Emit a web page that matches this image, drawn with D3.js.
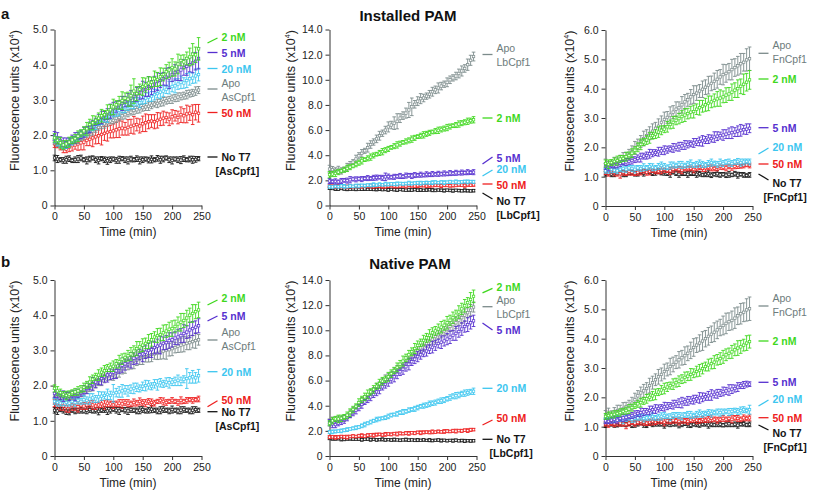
<!DOCTYPE html>
<html>
<head>
<meta charset="utf-8">
<script src="https://cdn.jsdelivr.net/npm/d3@7"></script>
<style>
  body { margin: 0; background: #fff; }
  text { font-family: "Liberation Sans", Arial, Helvetica, sans-serif; }
</style>
</head>
<body>
<svg id="chart" width="813" height="494"></svg>
<script>
// sampling times (min)
const time = [0,5,10,15,20,25,30,35,40,45,50,55,60,65,70,75,80,85,90,95,
  100,105,110,115,120,125,130,135,140,145,150,155,160,165,170,175,180,185,190,195,
  200,205,210,215,220,225,230,235,240,245];

// ---- a: installed PAM, AsCpf1 (x10^4 units)
const instAs_2nM = [1.92,1.85,1.78,1.72,1.75,1.80,1.86,1.90,1.97,2.05,
  2.12,2.18,2.30,2.35,2.42,2.48,2.55,2.58,2.66,2.72,
  2.80,2.86,2.92,2.98,3.05,3.02,3.12,3.25,3.18,3.30,
  3.38,3.42,3.48,3.50,3.60,3.58,3.66,3.72,3.80,3.85,
  3.92,3.88,4.02,4.12,4.08,4.18,4.22,4.30,4.28,4.45];
const instAs_2nM_sd = [.12,.10,.15,.12,.10,.14,.10,.12,.15,.10,
  .12,.18,.15,.20,.12,.15,.18,.12,.20,.15,
  .22,.12,.18,.25,.15,.20,.30,.35,.20,.15,
  .25,.20,.18,.15,.22,.20,.25,.18,.20,.22,
  .25,.20,.28,.15,.20,.18,.25,.30,.22,.32];
const instAs_5nM = [1.98,1.92,1.85,1.80,1.78,1.82,1.88,1.92,1.98,2.02,
  2.08,2.15,2.22,2.30,2.38,2.45,2.50,2.55,2.60,2.68,
  2.75,2.80,2.86,2.90,2.95,3.00,3.05,3.10,3.15,3.20,
  3.28,3.30,3.38,3.35,3.45,3.52,3.55,3.60,3.65,3.62,
  3.72,3.78,3.80,3.85,3.92,3.95,4.00,4.05,4.10,4.18];
const instAs_5nM_sd = [.12,.15,.10,.12,.14,.10,.12,.15,.10,.12,
  .14,.10,.15,.12,.10,.14,.18,.12,.15,.20,
  .18,.15,.12,.20,.15,.18,.22,.15,.20,.18,
  .25,.20,.28,.20,.22,.25,.20,.18,.25,.30,
  .20,.22,.25,.30,.22,.25,.20,.28,.25,.30];
const instAs_20nM = [1.88,1.82,1.75,1.70,1.72,1.78,1.82,1.88,1.95,2.00,
  2.05,2.10,2.18,2.25,2.30,2.38,2.42,2.48,2.50,2.58,
  2.62,2.66,2.70,2.75,2.78,2.82,2.85,2.90,2.95,2.92,
  3.00,3.05,3.08,3.10,3.15,3.18,3.22,3.25,3.30,3.35,
  3.38,3.40,3.45,3.50,3.48,3.55,3.60,3.62,3.68,3.72];
const instAs_20nM_sd = [.10,.12,.10,.08,.10,.12,.10,.08,.12,.10,
  .10,.12,.10,.12,.14,.10,.12,.10,.14,.12,
  .10,.12,.15,.12,.14,.12,.10,.15,.12,.14,
  .12,.15,.12,.14,.15,.12,.18,.15,.12,.18,
  .15,.20,.15,.18,.15,.20,.18,.15,.20,.18];
const instAs_apo = [1.82,1.78,1.72,1.68,1.70,1.75,1.80,1.85,1.88,1.92,
  1.98,2.02,2.08,2.12,2.18,2.22,2.28,2.32,2.35,2.40,
  2.42,2.48,2.50,2.55,2.58,2.62,2.65,2.70,2.72,2.75,
  2.78,2.80,2.82,2.85,2.88,2.90,2.92,2.95,2.98,3.00,
  3.02,3.05,3.08,3.10,3.12,3.15,3.18,3.20,3.25,3.28];
const instAs_apo_sd = [.08,.10,.08,.10,.08,.10,.08,.10,.12,.08,
  .10,.08,.10,.12,.10,.08,.10,.12,.10,.08,
  .10,.12,.10,.10,.12,.10,.08,.12,.10,.12,
  .10,.10,.12,.10,.08,.12,.10,.12,.10,.10,
  .12,.10,.12,.10,.10,.12,.10,.10,.12,.10];
const instAs_50nM = [1.75,1.72,1.68,1.62,1.60,1.65,1.70,1.72,1.75,1.78,
  1.80,1.85,1.88,1.92,1.95,1.98,2.02,2.05,2.08,2.10,
  2.12,2.15,2.18,2.20,2.18,2.22,2.25,2.28,2.30,2.26,
  2.32,2.35,2.38,2.40,2.38,2.42,2.45,2.48,2.50,2.45,
  2.52,2.55,2.50,2.58,2.55,2.60,2.62,2.58,2.65,2.62];
const instAs_50nM_sd = [.10,.08,.10,.12,.10,.12,.15,.12,.18,.20,
  .22,.15,.18,.25,.20,.22,.30,.20,.25,.18,
  .20,.22,.25,.20,.18,.22,.20,.25,.18,.20,
  .22,.25,.20,.18,.20,.22,.18,.20,.15,.18,
  .20,.15,.18,.22,.20,.25,.20,.28,.22,.25];
const instAs_noT7 = [1.35,1.32,1.30,1.28,1.30,1.33,1.28,1.30,1.32,1.35,
  1.30,1.28,1.32,1.35,1.30,1.28,1.33,1.30,1.27,1.30,
  1.32,1.28,1.30,1.33,1.30,1.28,1.32,1.30,1.33,1.28,
  1.30,1.32,1.29,1.31,1.30,1.34,1.30,1.32,1.35,1.30,
  1.28,1.32,1.30,1.29,1.33,1.30,1.32,1.30,1.31,1.33];
const instAs_noT7_sd = [.08,.10,.06,.08,.10,.08,.06,.08,.10,.08,
  .06,.10,.08,.06,.08,.10,.06,.08,.10,.08,
  .06,.08,.10,.06,.08,.10,.08,.06,.08,.10,
  .08,.06,.08,.10,.06,.08,.10,.08,.06,.08,
  .10,.06,.08,.10,.08,.06,.08,.10,.08,.06];

// ---- a: installed PAM, LbCpf1
const instLb_apo = [2.90,2.85,2.80,2.82,2.75,2.85,3.05,3.25,3.45,3.70,
  3.95,4.15,4.35,4.60,4.85,5.05,5.30,5.55,5.75,6.00,
  6.25,6.40,6.55,6.70,6.95,7.15,7.35,7.60,7.85,8.05,
  8.30,8.50,8.55,8.70,8.85,9.05,9.20,9.35,9.50,9.65,
  9.80,10.00,10.15,10.30,10.50,10.70,10.90,11.20,11.55,11.85];
const instLb_apo_sd = [.30,.25,.20,.30,.25,.20,.30,.25,.20,.30,
  .25,.30,.20,.35,.30,.25,.30,.35,.25,.30,
  .40,.30,.50,.60,.35,.30,.40,.60,.70,.30,
  .35,.40,.30,.25,.30,.35,.30,.40,.30,.25,
  .35,.30,.25,.30,.35,.40,.30,.45,.40,.35];
const instLb_2nM = [2.45,2.50,2.55,2.65,2.75,2.85,2.95,3.05,3.15,3.28,
  3.40,3.55,3.65,3.75,3.85,3.98,4.08,4.18,4.28,4.40,
  4.50,4.62,4.72,4.82,4.92,5.02,5.10,5.18,5.28,5.38,
  5.48,5.55,5.62,5.70,5.78,5.85,5.92,5.98,6.05,6.12,
  6.20,6.28,6.35,6.40,6.48,6.55,6.62,6.70,6.75,6.82];
const instLb_2nM_sd = [.25,.20,.25,.20,.15,.20,.25,.20,.15,.20,
  .20,.25,.15,.20,.25,.20,.15,.20,.25,.20,
  .20,.15,.20,.25,.20,.15,.20,.20,.25,.20,
  .15,.20,.25,.20,.20,.15,.20,.25,.20,.20,
  .25,.20,.15,.20,.25,.20,.20,.25,.20,.25];
const instLb_5nM = [1.95,1.90,1.92,1.88,1.95,2.00,1.98,2.05,2.10,2.08,
  2.12,2.10,2.15,2.18,2.15,2.20,2.22,2.25,2.20,2.28,
  2.30,2.25,2.28,2.32,2.35,2.30,2.38,2.40,2.35,2.42,
  2.40,2.45,2.42,2.48,2.45,2.50,2.48,2.52,2.50,2.55,
  2.52,2.58,2.55,2.60,2.58,2.62,2.60,2.65,2.62,2.65];
const instLb_5nM_sd = [.20,.15,.20,.15,.20,.15,.20,.25,.15,.20,
  .15,.20,.15,.20,.15,.20,.20,.15,.20,.30,
  .20,.15,.20,.15,.20,.15,.20,.15,.20,.20,
  .15,.20,.15,.20,.15,.20,.15,.20,.15,.20,
  .15,.20,.15,.20,.15,.20,.15,.20,.15,.20];
const instLb_20nM = [1.50,1.48,1.52,1.50,1.55,1.52,1.50,1.55,1.52,1.58,
  1.55,1.60,1.58,1.62,1.60,1.65,1.62,1.68,1.65,1.70,
  1.68,1.72,1.70,1.72,1.75,1.72,1.75,1.78,1.75,1.78,
  1.80,1.78,1.80,1.82,1.80,1.82,1.85,1.82,1.85,1.82,
  1.85,1.88,1.85,1.88,1.85,1.88,1.90,1.88,1.90,1.88];
const instLb_20nM_sd = [.12,.10,.12,.10,.12,.15,.10,.12,.10,.12,
  .15,.10,.12,.10,.12,.15,.10,.12,.10,.15,
  .12,.10,.12,.15,.10,.12,.10,.15,.12,.10,
  .12,.15,.10,.12,.10,.15,.12,.10,.12,.15,
  .10,.12,.10,.15,.12,.10,.12,.15,.10,.12];
const instLb_50nM = [1.55,1.52,1.50,1.55,1.52,1.50,1.48,1.52,1.50,1.55,
  1.52,1.50,1.55,1.52,1.55,1.50,1.52,1.55,1.52,1.50,
  1.55,1.58,1.55,1.52,1.55,1.58,1.55,1.60,1.58,1.55,
  1.58,1.60,1.58,1.55,1.60,1.58,1.62,1.60,1.58,1.62,
  1.60,1.58,1.62,1.60,1.65,1.62,1.60,1.65,1.62,1.65];
const instLb_50nM_sd = [.10,.12,.15,.10,.12,.10,.15,.12,.10,.12,
  .15,.10,.12,.10,.15,.12,.10,.12,.15,.10,
  .12,.10,.15,.12,.10,.12,.15,.10,.12,.10,
  .15,.12,.10,.12,.15,.10,.12,.10,.15,.12,
  .10,.12,.15,.10,.12,.10,.15,.12,.10,.12];
const instLb_noT7 = [1.38,1.35,1.32,1.30,1.35,1.32,1.30,1.28,1.32,1.30,
  1.28,1.30,1.32,1.28,1.30,1.27,1.28,1.30,1.26,1.28,
  1.25,1.28,1.26,1.24,1.27,1.25,1.22,1.25,1.23,1.26,
  1.22,1.24,1.21,1.23,1.25,1.22,1.20,1.23,1.21,1.19,
  1.22,1.20,1.18,1.21,1.19,1.17,1.20,1.18,1.16,1.18];
const instLb_noT7_sd = [.10,.08,.12,.10,.08,.10,.12,.08,.10,.12,
  .08,.10,.12,.08,.10,.08,.12,.10,.08,.10,
  .12,.08,.10,.12,.08,.10,.08,.12,.10,.08,
  .10,.12,.08,.10,.08,.12,.10,.08,.10,.12,
  .08,.10,.12,.08,.10,.08,.12,.10,.08,.10];

// ---- a: installed PAM, FnCpf1
const instFn_apo = [1.45,1.40,1.42,1.48,1.52,1.58,1.62,1.68,1.75,1.85,
  1.98,2.10,2.20,2.30,2.40,2.48,2.55,2.65,2.72,2.85,
  2.95,3.02,3.10,3.20,3.30,3.35,3.45,3.55,3.62,3.72,
  3.80,3.85,3.92,3.98,4.05,4.12,4.18,4.25,4.32,4.40,
  4.48,4.52,4.58,4.65,4.72,4.78,4.85,4.90,4.98,5.02];
const instFn_apo_sd = [.15,.12,.15,.18,.12,.15,.20,.15,.18,.20,
  .22,.18,.20,.25,.20,.22,.25,.20,.25,.22,
  .25,.20,.28,.22,.25,.20,.28,.25,.22,.25,
  .30,.25,.22,.28,.25,.30,.25,.28,.30,.25,
  .35,.30,.28,.35,.30,.32,.35,.30,.38,.40];
const instFn_2nM = [1.45,1.42,1.48,1.52,1.55,1.60,1.62,1.68,1.72,1.80,
  1.90,2.00,2.10,2.18,2.25,2.32,2.40,2.45,2.52,2.58,
  2.62,2.70,2.78,2.85,2.92,2.98,3.05,3.10,3.15,3.20,
  3.22,3.30,3.35,3.40,3.45,3.50,3.55,3.60,3.65,3.68,
  3.72,3.78,3.82,3.88,3.95,4.00,4.08,4.15,4.22,4.30];
const instFn_2nM_sd = [.12,.15,.10,.12,.15,.12,.10,.15,.12,.15,
  .12,.15,.18,.12,.15,.18,.12,.15,.18,.15,
  .12,.18,.15,.20,.15,.18,.20,.22,.18,.20,
  .22,.18,.25,.20,.22,.25,.20,.22,.25,.28,
  .20,.25,.22,.28,.25,.30,.25,.35,.30,.32];
const instFn_5nM = [1.35,1.32,1.38,1.40,1.42,1.45,1.48,1.50,1.52,1.55,
  1.58,1.62,1.65,1.70,1.72,1.78,1.80,1.82,1.85,1.88,
  1.90,1.92,1.95,1.98,2.00,2.02,2.05,2.08,2.10,2.12,
  2.15,2.18,2.20,2.22,2.25,2.28,2.30,2.35,2.38,2.40,
  2.42,2.45,2.48,2.50,2.52,2.55,2.58,2.60,2.62,2.65];
const instFn_5nM_sd = [.10,.12,.08,.10,.12,.10,.08,.12,.10,.12,
  .10,.12,.15,.10,.12,.15,.12,.10,.15,.12,
  .15,.12,.10,.15,.12,.15,.12,.15,.12,.10,
  .15,.12,.15,.18,.12,.15,.12,.18,.15,.12,
  .18,.15,.18,.20,.15,.18,.20,.15,.18,.15];
const instFn_20nM = [1.20,1.22,1.25,1.22,1.20,1.25,1.28,1.25,1.30,1.28,
  1.25,1.30,1.28,1.32,1.30,1.35,1.32,1.30,1.35,1.38,
  1.35,1.32,1.38,1.40,1.38,1.42,1.40,1.38,1.42,1.45,
  1.40,1.42,1.45,1.42,1.40,1.45,1.48,1.45,1.42,1.48,
  1.45,1.50,1.48,1.45,1.50,1.52,1.48,1.50,1.52,1.50];
const instFn_20nM_sd = [.08,.10,.12,.08,.10,.08,.12,.10,.08,.10,
  .12,.08,.10,.12,.08,.10,.12,.08,.10,.12,
  .10,.08,.12,.10,.08,.10,.12,.08,.10,.12,
  .08,.10,.12,.10,.08,.10,.12,.08,.10,.12,
  .10,.08,.12,.10,.08,.10,.12,.10,.08,.10];
const instFn_50nM = [1.15,1.12,1.18,1.15,1.12,1.10,1.15,1.12,1.18,1.15,
  1.12,1.15,1.18,1.20,1.15,1.18,1.22,1.20,1.18,1.22,
  1.25,1.22,1.20,1.25,1.28,1.25,1.22,1.28,1.30,1.28,
  1.25,1.30,1.32,1.28,1.30,1.32,1.30,1.28,1.32,1.35,
  1.32,1.30,1.35,1.32,1.35,1.38,1.35,1.38,1.40,1.38];
const instFn_50nM_sd = [.08,.10,.08,.12,.10,.15,.10,.08,.12,.10,
  .08,.10,.12,.08,.10,.12,.08,.10,.08,.12,
  .10,.08,.12,.10,.08,.10,.12,.08,.10,.08,
  .12,.10,.08,.10,.12,.08,.10,.08,.12,.10,
  .08,.10,.08,.10,.08,.10,.06,.08,.06,.08];
const instFn_noT7 = [1.10,1.12,1.08,1.10,1.12,1.15,1.10,1.08,1.12,1.15,
  1.12,1.10,1.15,1.12,1.18,1.15,1.12,1.15,1.18,1.12,
  1.15,1.12,1.10,1.15,1.12,1.08,1.12,1.10,1.08,1.12,
  1.10,1.08,1.10,1.06,1.08,1.10,1.05,1.08,1.10,1.06,
  1.08,1.05,1.08,1.06,1.10,1.05,1.08,1.06,1.04,1.06];
const instFn_noT7_sd = [.08,.06,.08,.10,.06,.08,.10,.08,.06,.08,
  .10,.08,.06,.10,.08,.06,.08,.10,.08,.06,
  .10,.08,.12,.06,.08,.10,.08,.06,.10,.08,
  .06,.10,.08,.06,.08,.10,.08,.06,.10,.08,
  .06,.08,.10,.06,.08,.10,.06,.08,.06,.08];

// ---- b: native PAM, AsCpf1
const natAs_2nM = [1.92,1.85,1.80,1.75,1.72,1.75,1.80,1.82,1.85,1.90,
  1.95,2.02,2.10,2.18,2.25,2.30,2.38,2.42,2.50,2.52,
  2.55,2.62,2.68,2.75,2.80,2.85,2.90,2.98,3.05,3.10,
  3.15,3.20,3.25,3.30,3.38,3.42,3.45,3.50,3.55,3.60,
  3.62,3.68,3.75,3.80,3.85,3.92,4.00,4.05,4.10,4.15];
const natAs_2nM_sd = [.10,.12,.10,.08,.12,.10,.08,.10,.12,.10,
  .12,.10,.15,.12,.10,.15,.12,.15,.10,.12,
  .15,.12,.18,.15,.12,.15,.18,.15,.20,.15,
  .18,.15,.20,.18,.15,.20,.18,.22,.18,.20,
  .22,.18,.20,.25,.20,.22,.20,.25,.20,.22];
const natAs_5nM = [1.78,1.75,1.72,1.70,1.72,1.70,1.75,1.72,1.78,1.80,
  1.88,1.92,2.00,2.05,2.10,2.15,2.20,2.25,2.30,2.32,
  2.38,2.42,2.50,2.58,2.62,2.68,2.72,2.78,2.82,2.88,
  2.90,2.95,3.00,3.02,3.08,3.12,3.15,3.20,3.22,3.28,
  3.30,3.35,3.38,3.42,3.48,3.52,3.58,3.62,3.66,3.70];
const natAs_5nM_sd = [.12,.10,.12,.15,.10,.12,.10,.15,.12,.10,
  .12,.15,.12,.18,.15,.12,.18,.15,.20,.15,
  .18,.22,.15,.20,.18,.15,.22,.18,.20,.15,
  .22,.18,.20,.22,.18,.20,.25,.18,.20,.22,
  .20,.18,.22,.20,.25,.18,.22,.20,.18,.20];
const natAs_apo = [1.72,1.68,1.70,1.65,1.68,1.70,1.72,1.70,1.75,1.78,
  1.82,1.88,1.95,2.00,2.05,2.10,2.15,2.20,2.25,2.28,
  2.30,2.35,2.42,2.48,2.55,2.60,2.65,2.70,2.72,2.78,
  2.80,2.82,2.85,2.88,2.90,2.92,2.95,2.98,3.00,3.02,
  3.05,3.08,3.12,3.15,3.18,3.20,3.22,3.25,3.28,3.30];
const natAs_apo_sd = [.08,.10,.08,.10,.12,.10,.08,.10,.12,.10,
  .12,.10,.12,.15,.12,.10,.15,.12,.10,.12,
  .15,.12,.18,.15,.20,.15,.18,.22,.15,.18,
  .20,.15,.18,.20,.15,.18,.20,.22,.25,.18,
  .20,.15,.18,.20,.22,.18,.20,.18,.22,.15];
const natAs_20nM = [1.55,1.52,1.50,1.55,1.52,1.50,1.55,1.52,1.58,1.55,
  1.60,1.58,1.62,1.65,1.62,1.68,1.70,1.72,1.75,1.72,
  1.78,1.80,1.82,1.85,1.88,1.85,1.90,1.92,1.95,1.92,
  1.98,2.00,2.02,1.98,2.05,2.02,2.08,2.05,2.10,2.08,
  2.10,2.12,2.15,2.12,2.18,2.20,2.22,2.25,2.22,2.28];
const natAs_20nM_sd = [.08,.10,.08,.12,.10,.08,.10,.12,.10,.08,
  .12,.10,.15,.12,.10,.15,.12,.10,.15,.12,
  .25,.12,.15,.18,.12,.15,.12,.15,.12,.10,
  .12,.15,.12,.10,.12,.15,.12,.10,.12,.15,
  .10,.12,.15,.12,.10,.28,.15,.18,.15,.18];
const natAs_50nM = [1.50,1.48,1.45,1.42,1.40,1.42,1.45,1.42,1.40,1.45,
  1.42,1.45,1.48,1.45,1.42,1.45,1.48,1.45,1.50,1.48,
  1.45,1.48,1.50,1.48,1.52,1.50,1.48,1.52,1.50,1.55,
  1.52,1.50,1.55,1.52,1.50,1.55,1.58,1.55,1.52,1.55,
  1.58,1.55,1.52,1.58,1.55,1.58,1.60,1.58,1.60,1.62];
const natAs_50nM_sd = [.10,.12,.15,.12,.15,.18,.15,.12,.15,.12,
  .10,.12,.10,.12,.10,.08,.10,.12,.10,.08,
  .10,.08,.10,.12,.08,.10,.08,.10,.08,.10,
  .08,.10,.08,.10,.08,.06,.08,.10,.08,.06,
  .08,.06,.08,.10,.06,.08,.06,.08,.06,.08];
const natAs_noT7 = [1.30,1.28,1.32,1.30,1.28,1.25,1.30,1.28,1.32,1.30,
  1.28,1.30,1.32,1.28,1.30,1.27,1.30,1.32,1.28,1.30,
  1.33,1.30,1.28,1.32,1.30,1.28,1.32,1.30,1.28,1.30,
  1.32,1.28,1.30,1.33,1.30,1.28,1.30,1.32,1.30,1.28,
  1.32,1.30,1.28,1.30,1.32,1.30,1.28,1.30,1.32,1.30];
const natAs_noT7_sd = [.08,.10,.06,.08,.10,.08,.06,.08,.10,.08,
  .06,.10,.08,.06,.08,.10,.06,.08,.10,.08,
  .06,.08,.10,.06,.08,.10,.08,.06,.08,.10,
  .08,.06,.08,.10,.06,.08,.10,.08,.06,.08,
  .10,.06,.08,.10,.08,.06,.08,.10,.08,.06];

// ---- b: native PAM, LbCpf1
const natLb_2nM = [2.60,2.80,2.95,2.95,3.00,3.10,3.25,3.45,3.70,3.95,
  4.25,4.50,4.70,4.90,5.10,5.30,5.55,5.75,5.95,6.10,
  6.30,6.55,6.80,7.05,7.30,7.55,7.80,8.05,8.30,8.55,
  8.80,9.00,9.20,9.40,9.60,9.80,9.95,10.10,10.25,10.40,
  10.60,10.80,11.00,11.20,11.45,11.70,11.95,12.20,12.45,12.70];
const natLb_2nM_sd = [.20,.25,.20,.30,.25,.20,.25,.30,.25,.20,
  .30,.25,.30,.35,.25,.30,.25,.35,.30,.25,
  .35,.30,.25,.35,.30,.40,.30,.35,.30,.40,
  .35,.30,.40,.35,.45,.40,.35,.40,.45,.40,
  .50,.40,.45,.40,.50,.45,.50,.40,.55,.50];
const natLb_apo = [2.75,2.85,2.90,2.92,2.95,3.00,3.15,3.35,3.60,3.85,
  4.10,4.35,4.55,4.75,5.00,5.20,5.45,5.65,5.85,6.05,
  6.25,6.45,6.65,6.90,7.10,7.30,7.55,7.75,8.00,8.20,
  8.40,8.60,8.80,8.95,9.15,9.30,9.50,9.65,9.80,9.95,
  10.10,10.30,10.45,10.60,10.80,11.00,11.20,11.40,11.60,11.85];
const natLb_apo_sd = [.20,.25,.20,.25,.20,.25,.20,.30,.25,.20,
  .25,.30,.25,.20,.30,.25,.30,.25,.30,.40,
  .30,.25,.35,.30,.25,.30,.35,.30,.40,.35,
  .30,.35,.40,.30,.35,.40,.45,.35,.40,.35,
  .45,.40,.50,.45,.40,.45,.50,.40,.45,.40];
const natLb_5nM = [2.65,2.55,2.50,2.60,2.75,2.90,3.05,3.25,3.45,3.65,
  3.85,4.10,4.30,4.50,4.70,4.90,5.10,5.30,5.50,5.70,
  5.90,6.10,6.30,6.50,6.70,6.90,7.10,7.30,7.50,7.70,
  7.90,8.05,8.20,8.35,8.50,8.65,8.80,8.95,9.05,9.15,
  9.30,9.45,9.60,9.75,9.90,10.10,10.30,10.45,10.60,10.75];
const natLb_5nM_sd = [.25,.30,.25,.20,.25,.30,.25,.20,.25,.30,
  .25,.30,.20,.25,.30,.25,.30,.35,.25,.30,
  .35,.30,.40,.35,.30,.40,.35,.45,.30,.35,
  .40,.35,.30,.40,.35,.45,.40,.35,.50,.40,
  .45,.50,.40,.55,.45,.50,.45,.55,.50,.45];
const natLb_20nM = [1.90,1.92,1.95,1.98,2.00,2.05,2.10,2.15,2.20,2.25,
  2.30,2.40,2.50,2.60,2.70,2.80,2.90,2.95,3.00,3.05,
  3.15,3.25,3.30,3.35,3.45,3.50,3.55,3.65,3.70,3.75,
  3.85,3.95,4.00,4.05,4.15,4.20,4.25,4.35,4.40,4.45,
  4.55,4.65,4.75,4.80,4.85,4.95,5.00,5.05,5.10,5.15];
const natLb_20nM_sd = [.12,.15,.12,.10,.15,.12,.15,.10,.12,.15,
  .12,.15,.18,.12,.15,.12,.18,.15,.12,.15,
  .18,.15,.12,.18,.15,.20,.15,.18,.15,.20,
  .18,.15,.20,.18,.22,.18,.20,.18,.22,.20,
  .18,.22,.20,.25,.22,.20,.25,.22,.20,.25];
const natLb_50nM = [1.50,1.52,1.48,1.50,1.55,1.52,1.50,1.55,1.58,1.55,
  1.60,1.62,1.58,1.65,1.68,1.65,1.70,1.72,1.68,1.72,
  1.75,1.72,1.78,1.75,1.80,1.78,1.82,1.80,1.85,1.82,
  1.88,1.85,1.88,1.90,1.88,1.92,1.90,1.95,1.92,1.95,
  1.98,1.95,2.00,1.98,2.02,2.00,2.05,2.02,2.08,2.10];
const natLb_50nM_sd = [.12,.10,.15,.12,.10,.12,.15,.10,.12,.10,
  .12,.15,.10,.12,.10,.15,.12,.10,.12,.15,
  .10,.12,.10,.15,.12,.10,.12,.15,.10,.12,
  .10,.15,.12,.10,.12,.15,.10,.12,.10,.15,
  .12,.10,.12,.15,.10,.12,.10,.15,.12,.10];
const natLb_noT7 = [1.40,1.38,1.35,1.38,1.35,1.32,1.35,1.38,1.35,1.32,
  1.35,1.30,1.33,1.35,1.30,1.32,1.28,1.30,1.32,1.28,
  1.30,1.27,1.30,1.28,1.25,1.28,1.30,1.26,1.28,1.25,
  1.27,1.25,1.28,1.24,1.26,1.23,1.25,1.27,1.23,1.25,
  1.22,1.24,1.22,1.25,1.21,1.23,1.20,1.22,1.20,1.21];
const natLb_noT7_sd = [.10,.12,.08,.10,.15,.10,.08,.12,.10,.08,
  .10,.12,.08,.10,.12,.08,.10,.08,.12,.10,
  .08,.10,.12,.08,.10,.08,.12,.10,.08,.10,
  .12,.08,.10,.08,.12,.10,.08,.10,.12,.08,
  .10,.08,.12,.10,.08,.10,.12,.08,.10,.08];

// ---- b: native PAM, FnCpf1
const natFn_apo = [1.40,1.45,1.42,1.50,1.55,1.58,1.62,1.68,1.72,1.80,
  1.92,2.05,2.15,2.22,2.30,2.40,2.50,2.60,2.70,2.78,
  2.88,2.95,3.05,3.12,3.20,3.28,3.35,3.42,3.50,3.60,
  3.70,3.78,3.85,3.92,4.00,4.08,4.15,4.22,4.30,4.38,
  4.45,4.52,4.58,4.62,4.70,4.78,4.85,4.90,4.98,5.02];
const natFn_apo_sd = [.15,.18,.12,.15,.18,.15,.20,.15,.18,.20,
  .22,.18,.20,.22,.20,.25,.22,.20,.25,.22,
  .25,.22,.28,.25,.22,.28,.25,.30,.25,.28,
  .30,.25,.28,.32,.28,.30,.28,.32,.30,.28,
  .32,.35,.30,.32,.35,.30,.35,.32,.38,.40];
const natFn_2nM = [1.35,1.38,1.40,1.42,1.45,1.48,1.52,1.55,1.60,1.65,
  1.72,1.78,1.82,1.88,1.95,2.00,2.05,2.10,2.18,2.25,
  2.30,2.35,2.40,2.45,2.50,2.55,2.62,2.68,2.72,2.78,
  2.82,2.88,2.92,2.98,3.05,3.10,3.15,3.20,3.28,3.32,
  3.38,3.45,3.50,3.55,3.62,3.68,3.72,3.78,3.85,3.90];
const natFn_2nM_sd = [.10,.12,.10,.12,.10,.12,.10,.12,.15,.12,
  .10,.12,.15,.12,.15,.12,.15,.18,.12,.15,
  .18,.15,.12,.18,.15,.18,.15,.18,.15,.20,
  .15,.18,.20,.18,.15,.20,.18,.22,.18,.20,
  .22,.20,.18,.22,.20,.25,.22,.20,.25,.22];
const natFn_5nM = [1.20,1.18,1.22,1.25,1.22,1.28,1.30,1.32,1.35,1.38,
  1.42,1.45,1.48,1.50,1.52,1.55,1.58,1.60,1.62,1.65,
  1.68,1.70,1.72,1.75,1.78,1.80,1.82,1.85,1.88,1.90,
  1.92,1.95,1.98,2.00,2.02,2.05,2.08,2.10,2.12,2.15,
  2.20,2.22,2.25,2.28,2.30,2.35,2.40,2.42,2.45,2.45];
const natFn_5nM_sd = [.10,.08,.10,.12,.10,.08,.12,.10,.08,.10,
  .12,.10,.15,.12,.10,.15,.12,.15,.12,.10,
  .15,.12,.10,.15,.12,.15,.18,.12,.15,.12,
  .15,.12,.18,.15,.12,.15,.18,.12,.15,.12,
  .15,.12,.18,.15,.12,.15,.10,.12,.10,.08];
const natFn_20nM = [1.20,1.22,1.25,1.22,1.28,1.25,1.22,1.28,1.30,1.25,
  1.28,1.30,1.32,1.28,1.30,1.32,1.35,1.30,1.32,1.35,
  1.38,1.35,1.32,1.38,1.40,1.38,1.35,1.40,1.42,1.40,
  1.38,1.42,1.45,1.42,1.45,1.48,1.45,1.48,1.50,1.48,
  1.50,1.52,1.50,1.52,1.55,1.52,1.55,1.58,1.55,1.58];
const natFn_20nM_sd = [.08,.10,.12,.08,.10,.08,.12,.10,.08,.10,
  .12,.08,.10,.12,.08,.10,.12,.08,.10,.12,
  .10,.08,.12,.10,.08,.10,.12,.08,.10,.12,
  .08,.10,.12,.10,.08,.10,.12,.08,.10,.12,
  .10,.08,.12,.10,.08,.10,.12,.10,.08,.15];
const natFn_50nM = [1.10,1.08,1.12,1.10,1.15,1.12,1.10,1.08,1.12,1.15,
  1.12,1.15,1.18,1.15,1.12,1.15,1.18,1.15,1.20,1.18,
  1.15,1.20,1.18,1.22,1.20,1.18,1.22,1.20,1.18,1.22,
  1.25,1.22,1.20,1.25,1.22,1.25,1.28,1.25,1.22,1.25,
  1.28,1.25,1.28,1.25,1.30,1.28,1.25,1.30,1.28,1.30];
const natFn_50nM_sd = [.08,.10,.08,.10,.12,.10,.08,.15,.10,.08,
  .10,.08,.12,.10,.08,.10,.12,.08,.10,.08,
  .12,.10,.08,.10,.08,.12,.10,.08,.10,.08,
  .10,.12,.08,.10,.08,.10,.12,.08,.10,.08,
  .10,.08,.10,.12,.08,.10,.08,.10,.08,.10];
const natFn_noT7 = [1.05,1.08,1.10,1.08,1.05,1.10,1.12,1.08,1.10,1.05,
  1.08,1.10,1.12,1.08,1.05,1.10,1.08,1.12,1.10,1.08,
  1.05,1.10,1.12,1.08,1.10,1.06,1.08,1.10,1.08,1.05,
  1.08,1.10,1.06,1.08,1.10,1.05,1.08,1.06,1.10,1.08,
  1.05,1.08,1.10,1.06,1.08,1.05,1.08,1.10,1.06,1.08];
const natFn_noT7_sd = [.08,.06,.08,.10,.06,.08,.10,.08,.06,.08,
  .10,.08,.06,.10,.08,.06,.08,.10,.08,.06,
  .10,.08,.12,.06,.08,.10,.08,.06,.10,.08,
  .06,.10,.08,.06,.08,.10,.08,.06,.10,.08,
  .06,.08,.10,.06,.08,.10,.06,.08,.06,.08];

const xTicks = [0, 50, 100, 150, 200, 250];
const seriesOrder = ["noT7", "50nM", "apo", "20nM", "5nM", "2nM"];
const colors = { "2nM": "#3fd81e", "5nM": "#5630cf", "20nM": "#3cc6ef",
  "apo": "#7c8b8b", "50nM": "#ee2020", "noT7": "#141414" };
const textColors = Object.assign({}, colors, { apo: "#6e7c7c" });

// layout of each panel; label rows: [key, leader y, leader left offset, text y, 2nd line dx]
const panels = [
  { x: 54.5, y: 29.5, yMax: 5, yTicks: [0,1,2,3,4,5], enzyme: "AsCpf1", ylabX: -39.5,
    data: { "2nM": [instAs_2nM, instAs_2nM_sd], "5nM": [instAs_5nM, instAs_5nM_sd],
      "20nM": [instAs_20nM, instAs_20nM_sd], "apo": [instAs_apo, instAs_apo_sd],
      "50nM": [instAs_50nM, instAs_50nM_sd], "noT7": [instAs_noT7, instAs_noT7_sd] },
    labels: [["2nM", 8.5, 5, 7], ["5nM", 23, 0, 23], ["20nM", 39, 0, 39],
      ["apo", 59.5, 0, 53], ["50nM", 83, 0, 83], ["noT7", 127.5, 0, 127.5, -6]] },
  { x: 329.5, y: 29.5, yMax: 14, yTicks: [0,2,4,6,8,10,12,14], enzyme: "LbCpf1", ylabX: -38.8,
    data: { "2nM": [instLb_2nM, instLb_2nM_sd], "5nM": [instLb_5nM, instLb_5nM_sd],
      "20nM": [instLb_20nM, instLb_20nM_sd], "apo": [instLb_apo, instLb_apo_sd],
      "50nM": [instLb_50nM, instLb_50nM_sd], "noT7": [instLb_noT7, instLb_noT7_sd] },
    labels: [["apo", 25, 0, 18], ["2nM", 88.5, 0, 88.5], ["5nM", 127.5, 7, 128],
      ["20nM", 140.5, 6, 139], ["50nM", 154.5, 0, 155], ["noT7", 169.5, -6, 171.5, 0]] },
  { x: 605.5, y: 30, yMax: 6, yTicks: [0,1,2,3,4,5,6], enzyme: "FnCpf1", ylabX: -35.5,
    data: { "2nM": [instFn_2nM, instFn_2nM_sd], "5nM": [instFn_5nM, instFn_5nM_sd],
      "20nM": [instFn_20nM, instFn_20nM_sd], "apo": [instFn_apo, instFn_apo_sd],
      "50nM": [instFn_50nM, instFn_50nM_sd], "noT7": [instFn_noT7, instFn_noT7_sd] },
    labels: [["apo", 23.3, 0, 15], ["2nM", 49, 0, 49], ["5nM", 97.7, 0, 97.7],
      ["20nM", 118, 6, 116.7], ["50nM", 134, 0, 134], ["noT7", 150, -6, 152.7, -9]] },
  { x: 54.5, y: 280, yMax: 5, yTicks: [0,1,2,3,4,5], enzyme: "AsCpf1", ylabX: -39.5,
    data: { "2nM": [natAs_2nM, natAs_2nM_sd], "5nM": [natAs_5nM, natAs_5nM_sd],
      "20nM": [natAs_20nM, natAs_20nM_sd], "apo": [natAs_apo, natAs_apo_sd],
      "50nM": [natAs_50nM, natAs_50nM_sd], "noT7": [natAs_noT7, natAs_noT7_sd] },
    labels: [["2nM", 20, 5, 18.3], ["5nM", 36, 5, 35.7], ["apo", 60, 0, 51.7],
      ["20nM", 91.7, 0, 91.7], ["50nM", 120.7, 6, 120], ["noT7", 131.7, 0, 131.7, -6]] },
  { x: 329.5, y: 280, yMax: 14, yTicks: [0,2,4,6,8,10,12,14], enzyme: "LbCpf1", ylabX: -38.8,
    data: { "2nM": [natLb_2nM, natLb_2nM_sd], "5nM": [natLb_5nM, natLb_5nM_sd],
      "20nM": [natLb_20nM, natLb_20nM_sd], "apo": [natLb_apo, natLb_apo_sd],
      "50nM": [natLb_50nM, natLb_50nM_sd], "noT7": [natLb_noT7, natLb_noT7_sd] },
    labels: [["2nM", 8.3, 4.5, 6.7], ["apo", 26.7, 0, 20], ["5nM", 50, -7, 50],
      ["20nM", 108.3, 0, 108.3], ["50nM", 140, 5, 137.7], ["noT7", 159.3, 0, 159.3, -7]] },
  { x: 605.5, y: 280, yMax: 6, yTicks: [0,1,2,3,4,5,6], enzyme: "FnCpf1", ylabX: -35.5,
    data: { "2nM": [natFn_2nM, natFn_2nM_sd], "5nM": [natFn_5nM, natFn_5nM_sd],
      "20nM": [natFn_20nM, natFn_20nM_sd], "apo": [natFn_apo, natFn_apo_sd],
      "50nM": [natFn_50nM, natFn_50nM_sd], "noT7": [natFn_noT7, natFn_noT7_sd] },
    labels: [["apo", 26, 0, 18.3], ["2nM", 61, 0, 61], ["5nM", 102.3, 0, 102.3],
      ["20nM", 120, 6, 119.3], ["50nM", 137.7, 0, 137.7], ["noT7", 150, -5, 153.3, -9]] }
];

const W = 147, H = 176;
const svg = d3.select("#chart");
const x = d3.scaleLinear().domain([0, 250]).range([0, W]);

function labelLines(key, enzyme) {
  if (key === "apo") return ["Apo", enzyme];
  if (key === "noT7") return ["No T7", "[" + enzyme + "]"];
  return [key.replace("nM", " nM")];
}

panels.forEach(p => {
  const g = svg.append("g").attr("transform", `translate(${p.x},${p.y})`);
  const y = d3.scaleLinear().domain([0, p.yMax]).range([H, 0]);

  const yAxis = g.append("g")
    .call(d3.axisLeft(y).tickValues(p.yTicks).tickSize(4).tickSizeOuter(0).tickPadding(3)
      .tickFormat(d => d === 0 ? "0" : d.toFixed(1)));
  const xAxis = g.append("g").attr("transform", `translate(0,${H})`)
    .call(d3.axisBottom(x).tickValues(xTicks).tickSize(4).tickSizeOuter(0).tickPadding(3.5));
  [yAxis, xAxis].forEach(a => {
    a.selectAll("path, line").attr("stroke", "#333").attr("stroke-width", 1);
    a.selectAll("text").attr("fill", "#222").style("font-size", "10.5px");
  });

  g.append("text")
    .attr("x", W / 2).attr("y", H + 30.5)
    .attr("text-anchor", "middle").attr("fill", "#222").style("font-size", "12px")
    .text("Time (min)");

  const yl = g.append("text")
    .attr("transform", `translate(${p.ylabX},71) rotate(-90)`)
    .attr("text-anchor", "middle").attr("dominant-baseline", "central")
    .attr("fill", "#222").style("font-size", "12.5px");
  yl.append("tspan").text("Fluorescence units (x10");
  yl.append("tspan").attr("dy", -4).style("font-size", "7px").text("4");
  yl.append("tspan").attr("dy", 4).text(")");

  seriesOrder.forEach(key => {
    const [mean, sd] = p.data[key];
    const pts = time.map((t, i) => ({ t, v: mean[i], e: sd[i] }));
    const s = g.append("g").attr("stroke", colors[key]).attr("fill", "none");
    s.selectAll("path.err").data(pts).join("path")
      .attr("class", "err")
      .attr("stroke-width", 0.9)
      .attr("d", d => {
        const cx = x(d.t), y1 = y(d.v + d.e), y2 = y(d.v - d.e);
        return `M${cx},${y1}V${y2}M${cx - 1.8},${y1}H${cx + 1.8}M${cx - 1.8},${y2}H${cx + 1.8}`;
      });
    s.selectAll("rect").data(pts).join("rect")
      .attr("x", d => x(d.t) - 1.2).attr("y", d => y(d.v) - 1.2)
      .attr("width", 2.4).attr("height", 2.4)
      .attr("fill", "#fff").attr("stroke-width", 0.7);
  });

  p.labels.forEach(([key, ly, dl, ty, dx2]) => {
    g.append("line")
      .attr("x1", W + 6).attr("y1", ly + dl).attr("x2", W + 16).attr("y2", ly)
      .attr("stroke", colors[key]).attr("stroke-width", 1.3);
    labelLines(key, p.enzyme).forEach((txt, i) => {
      g.append("text")
        .attr("x", W + 20 + (i ? (dx2 || 0) : 0)).attr("y", ty + i * 14)
        .attr("dominant-baseline", "central")
        .attr("fill", textColors[key])
        .style("font-size", "10.5px")
        .style("font-weight", key === "apo" ? "normal" : "bold")
        .text(txt);
    });
  });
});

svg.append("text").attr("x", 408).attr("y", 15).attr("text-anchor", "middle")
  .attr("dominant-baseline", "central").style("font-size", "15px").style("font-weight", "bold")
  .attr("fill", "#111").text("Installed PAM");
svg.append("text").attr("x", 410).attr("y", 263.5).attr("text-anchor", "middle")
  .attr("dominant-baseline", "central").style("font-size", "15px").style("font-weight", "bold")
  .attr("fill", "#111").text("Native PAM");
svg.append("text").attr("x", 1).attr("y", 13).attr("dominant-baseline", "central")
  .style("font-size", "15px").style("font-weight", "bold").attr("fill", "#111").text("a");
svg.append("text").attr("x", 1).attr("y", 261.5).attr("dominant-baseline", "central")
  .style("font-size", "15px").style("font-weight", "bold").attr("fill", "#111").text("b");
</script>
</body>
</html>
